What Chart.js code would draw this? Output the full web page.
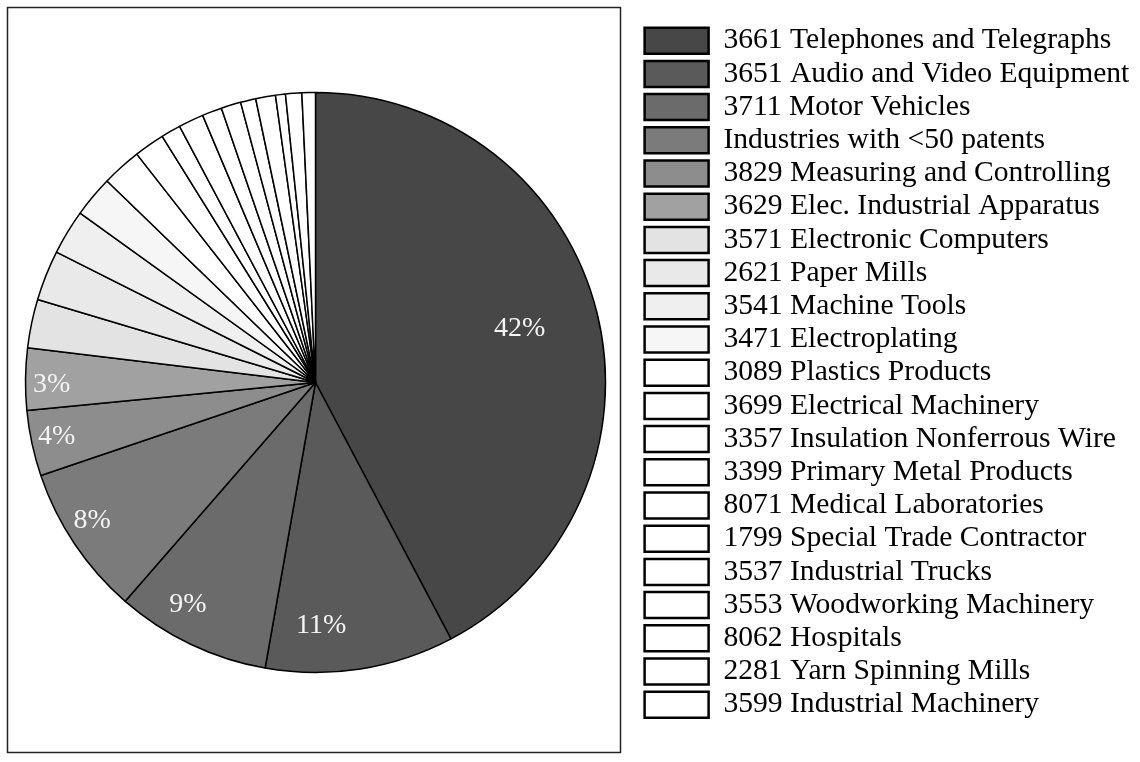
<!DOCTYPE html>
<html>
<head>
<meta charset="utf-8">
<script src="https://cdn.jsdelivr.net/npm/chart.js@4.4.1/dist/chart.umd.min.js"></script>
<style>
  html, body { margin: 0; padding: 0; background: #fff; }
</style>
</head>
<body>
<canvas id="myChart" width="1140" height="762"></canvas>
<script>
/* global Chart */

// SIC industries, in legend order (clockwise from 12 o'clock)
var industries = [
    '3661 Telephones and Telegraphs',
    '3651 Audio and Video Equipment',
    '3711 Motor Vehicles',
    'Industries with <50 patents',
    '3829 Measuring and Controlling',
    '3629 Elec. Industrial Apparatus',
    '3571 Electronic Computers',
    '2621 Paper Mills',
    '3541 Machine Tools',
    '3471 Electroplating',
    '3089 Plastics Products',
    '3699 Electrical Machinery',
    '3357 Insulation Nonferrous Wire',
    '3399 Primary Metal Products',
    '8071 Medical Laboratories',
    '1799 Special Trade Contractor',
    '3537 Industrial Trucks',
    '3553 Woodworking Machinery',
    '8062 Hospitals',
    '2281 Yarn Spinning Mills',
    '3599 Industrial Machinery'
];

// share of patents, percent
var shares = [42.2, 10.5, 8.6, 8.4, 3.65, 3.45, 2.7, 2.8, 2.5, 2.3, 2.2,
              1.7, 1.1, 1.4, 1.1, 1.1, 0.85, 1.1, 0.55, 0.9, 0.75];

var sliceColors = ['#474747', '#5a5a5a', '#6b6b6b', '#7b7b7b', '#8d8d8d', '#a1a1a1',
                   '#e3e3e3', '#e9e9e9', '#efefef', '#f6f6f6',
                   '#ffffff', '#ffffff', '#ffffff', '#ffffff', '#ffffff', '#ffffff',
                   '#ffffff', '#ffffff', '#ffffff', '#ffffff', '#ffffff'];

// where the % text sits: [fraction of the slice's sweep, fraction of radius]
var labelPlace = [[0.49, 0.73], [0.70, 0.83], [0.65, 0.875], [0.59, 0.9], [0.57, 0.91], [0.46, 0.91]];

var serif = '"Liberation Serif", "DejaVu Serif", serif';

var framePlugin = {
    id: 'frame',
    beforeDraw: function(chart) {
        var c = chart.ctx;
        c.save();
        c.strokeStyle = '#222';
        c.lineWidth = 1.5;
        c.strokeRect(7.5, 7.5, 613, 745);
        c.restore();
    }
};

var pctPlugin = {
    id: 'pctLabels',
    afterDatasetsDraw: function(chart) {
        var meta = chart.getDatasetMeta(0);
        var total = shares.reduce(function(a, b) { return a + b; }, 0);
        var c = chart.ctx;
        c.save();
        c.font = '28px ' + serif;
        c.fillStyle = '#f4f4f4';
        c.textAlign = 'center';
        c.textBaseline = 'middle';
        meta.data.forEach(function(arc, i) {
            var share = shares[i] / total * 100;
            if (share < 3) return;
            var p = arc.getProps(['x', 'y', 'startAngle', 'endAngle', 'outerRadius'], true);
            var f = labelPlace[i] || [0.5, 0.85];
            var a = p.startAngle + (p.endAngle - p.startAngle) * f[0];
            var r = p.outerRadius * f[1];
            c.fillText(Math.round(share) + '%', p.x + Math.cos(a) * r, p.y + Math.sin(a) * r + 3);
        });
        c.restore();
    }
};

// fixed legend width, then nudge the legend right so the pie stays centred in the frame
var legendPlacePlugin = {
    id: 'legendPlace',
    beforeLayout: function(chart) {
        var lg = chart.legend;
        if (!lg || lg._fixedFit) return;
        var fit = lg.fit;
        lg.fit = function() {
            fit.call(this);
            this.width = 509;
        };
        lg._fixedFit = true;
    },
    afterLayout: function(chart) {
        chart.legend.left += 10;
        chart.legend.right += 10;
    }
};

var ctx = document.getElementById('myChart').getContext('2d');
var myChart = new Chart(ctx, {
    type: 'pie',
    data: {
        labels: industries,
        datasets: [{
            data: shares,
            backgroundColor: sliceColors,
            borderColor: '#000',
            borderWidth: 1.5,
            radius: 290
        }]
    },
    options: {
        responsive: false,
        animation: false,
        devicePixelRatio: 1,
        layout: { padding: { left: 0, right: 0, top: 3, bottom: 0 } },
        plugins: {
            tooltip: { enabled: false },
            legend: {
                position: 'right',
                align: 'start',
                title: { display: true, text: '', padding: { top: 0, bottom: 7.3 }, font: { size: 10 } },
                labels: {
                    boxWidth: 64,
                    boxHeight: 26,
                    padding: 3.6,
                    color: '#000',
                    font: { family: serif, size: 29.6 },
                    generateLabels: function(chart) {
                        var items = Chart.overrides.doughnut.plugins.legend.labels.generateLabels(chart);
                        items.forEach(function(it) {
                            it.lineWidth = 2.5;
                            it.strokeStyle = '#000';
                        });
                        return items;
                    }
                }
            }
        }
    },
    plugins: [framePlugin, pctPlugin, legendPlacePlugin]
});
</script>
</body>
</html>
